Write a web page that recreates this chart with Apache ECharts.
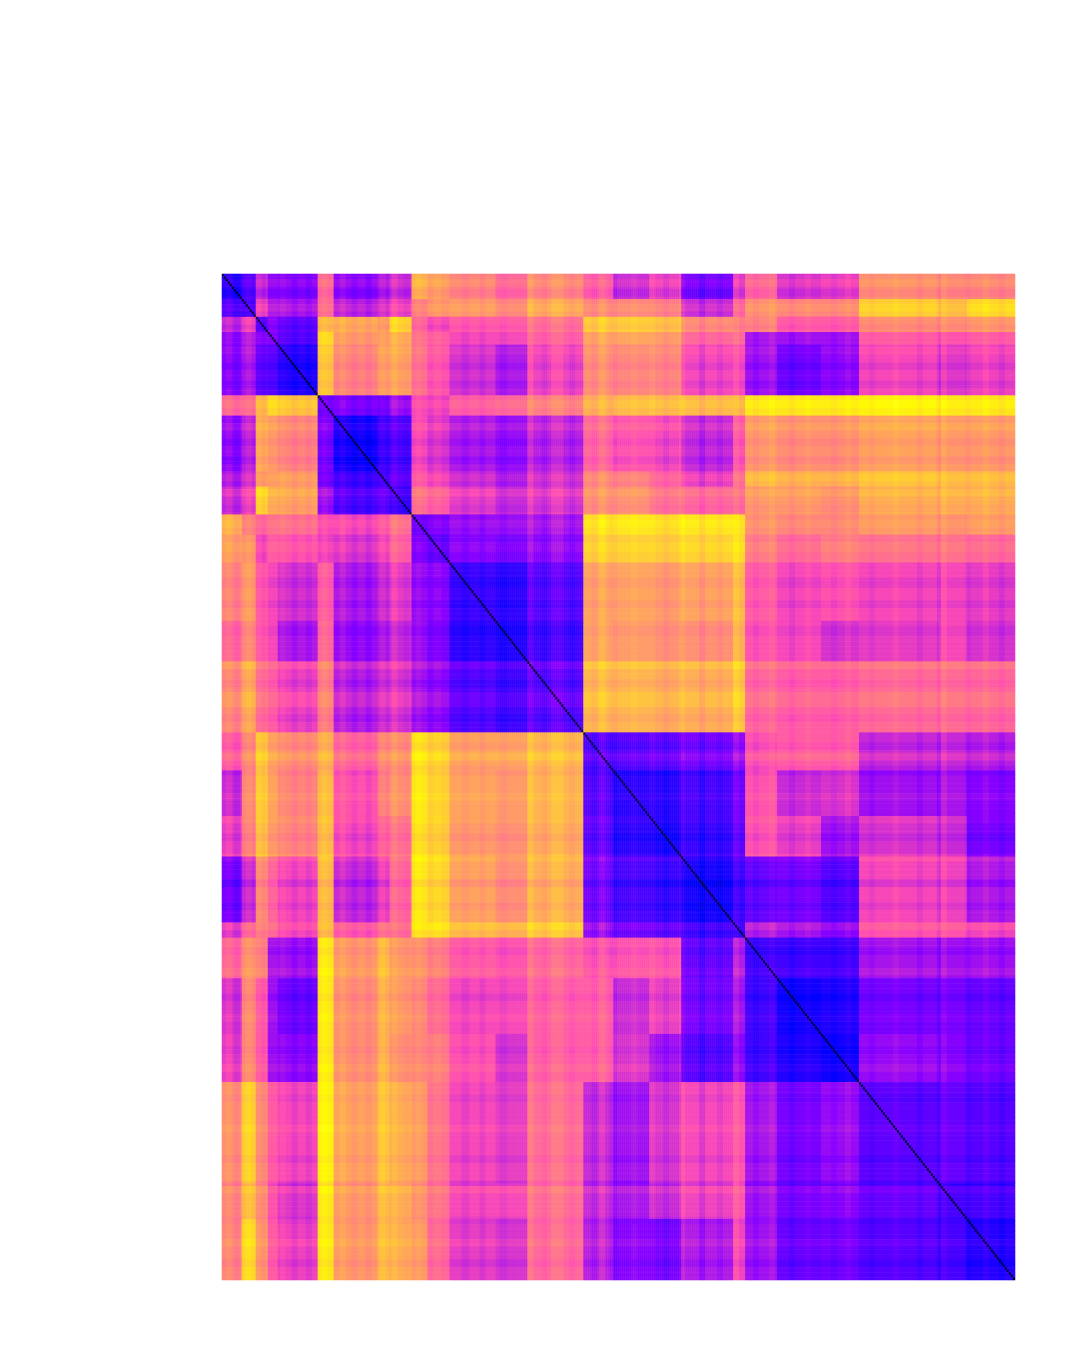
<!DOCTYPE html>
<html>
<head>
<meta charset="utf-8">
<style>html,body{margin:0;padding:0;background:#fff}#c{width:1085px;height:1350px}</style>
<script src="https://cdn.jsdelivr.net/npm/echarts@6/dist/echarts.min.js"></script>
</head>
<body>
<div id="c"></div>
<script>
const clusterSizes = [10,7,6,5,20,8,22,6,11,8,11,23,16,28,15,18,16,26,6,16,22,19,40,14,24];
// Upper triangle of cluster-to-cluster values, one row per cluster, starting at its diagonal
const rowA = [.30,.35,.50,.43,.42,.62,.43,.46,.50,.76,.72,.68,.62,.68,.60,.50,.54,.40,.52,.62,.52,.54,.70,.68,.68];
const rowB = [.33,.55,.47,.46,.62,.48,.50,.54,.66,.70,.72,.68,.74,.68,.68,.66,.50,.60,.70,.68,.68,.82,.78,.84];
const rowC = [.38,.43,.38,.78,.76,.72,.84,.62,.56,.60,.60,.64,.82,.82,.80,.70,.66,.68,.60,.60,.70,.70,.72];
const rowD = [.42,.36,.84,.72,.72,.76,.64,.60,.56,.56,.60,.74,.74,.72,.62,.62,.46,.45,.45,.60,.58,.60];
const rowE = [.30,.80,.68,.72,.74,.64,.58,.52,.47,.55,.70,.68,.68,.56,.56,.45,.39,.43,.56,.53,.55];
const rowF = [.38,.40,.38,.44,.56,.54,.60,.62,.66,.76,.78,.78,.78,.76,.87,.87,.87,.89,.87,.87];
const rowG = [.28,.32,.35,.56,.52,.47,.44,.48,.62,.58,.56,.50,.58,.72,.70,.70,.74,.72,.72];
const rowH = [.32,.36,.58,.54,.50,.46,.50,.68,.66,.60,.54,.62,.78,.76,.76,.80,.78,.78];
const rowI = [.33,.64,.60,.54,.50,.52,.70,.70,.64,.62,.62,.72,.72,.70,.76,.76,.76];
const rowJ = [.38,.40,.44,.44,.45,.86,.87,.85,.87,.85,.70,.68,.68,.72,.70,.72];
const rowK = [.36,.42,.40,.42,.82,.82,.81,.83,.84,.66,.62,.66,.64,.64,.62];
const rowL = [.33,.31,.36,.74,.74,.72,.74,.78,.60,.56,.58,.56,.56,.54];
const rowM = [.29,.33,.74,.72,.70,.70,.76,.58,.56,.52,.54,.56,.52];
const rowN = [.36,.78,.77,.75,.76,.80,.62,.60,.60,.63,.63,.62];
const rowO = [.36,.36,.37,.40,.43,.58,.60,.60,.50,.50,.48];
const rowP = [.30,.30,.34,.38,.58,.50,.52,.45,.46,.42];
const rowQ = [.28,.32,.36,.58,.54,.45,.52,.50,.40];
const rowR = [.28,.32,.38,.40,.36,.56,.55,.47];
const rowS = [.30,.47,.45,.42,.58,.58,.55];
const rowT = [.33,.33,.33,.46,.45,.45];
const rowU = [.27,.29,.40,.40,.38];
const rowV = [.27,.44,.42,.39];
const rowW = [.37,.38,.36];
const rowX = [.34,.34];
const rowY = [.30];
const diagonalValue = 0.05;
// Lighter or darker bands that cross the blocks: first item, last item, value shift
const stripeFirst = [2,6,12,20,29,35,42,50,59,65,72,79,85,91,97,106,120,129,139,153,160,165,174,185,189,194,205,214,221,229,239,248,256,266,274,284,292,305,312,324,336,348,358,360,372,381,389];
const stripeLast  = [4,8,14,21,31,37,44,52,61,67,74,81,87,93,99,109,123,131,142,155,162,170,176,187,191,197,207,216,223,231,241,250,258,268,276,286,294,307,314,326,338,350,359,362,374,383,391];
const stripeShift = [.02,-.02,.02,-.02,.015,-.02,-.02,.02,.025,-.02,-.025,.02,.025,-.015,.015,.02,-.02,-.02,-.015,.035,-.02,.03,-.02,-.02,.03,-.02,.015,.02,-.02,.025,-.035,-.02,.03,-.02,.02,-.02,.015,-.015,.02,-.015,.015,-.02,-.03,.025,-.015,.02,-.02];

const upper = [rowA,rowB,rowC,rowD,rowE,rowF,rowG,rowH,rowI,rowJ,rowK,rowL,rowM,rowN,rowO,rowP,rowQ,rowR,rowS,rowT,rowU,rowV,rowW,rowX,rowY];
const clusterOf = [];
clusterSizes.forEach((n,c)=>{for(let k=0;k<n;k++)clusterOf.push(c);});
const items = clusterOf.map((_,i)=>String(i));
const band = items.map(()=>0);
stripeFirst.forEach((f,k)=>{for(let i=f;i<=stripeLast[k];i++)band[i]=stripeShift[k];});
const data = [];
for(let i=0;i<items.length;i++){
  for(let j=0;j<items.length;j++){
    const a=Math.min(clusterOf[i],clusterOf[j]), b=Math.max(clusterOf[i],clusterOf[j]);
    data.push([j,i,i===j?diagonalValue:upper[a][b-a]+band[i]+band[j]]);
  }
}
// gnuplot2 colour map
function cm(t){
  const cl=v=>Math.round(255*Math.max(0,Math.min(1,v)));
  const r=t/0.32-0.78125, g=2*t-0.84;
  const b=t<0.25?4*t:t<0.42?1:t<0.92?-2*t+1.84:t/0.08-11.5;
  return `rgb(${cl(r)},${cl(g)},${cl(b)})`;
}
const colors=[];for(let i=0;i<=100;i++)colors.push(cm(i/100));

const chart=echarts.init(document.getElementById('c'),null,{renderer:'canvas'});
chart.setOption({
  animation:false,
  backgroundColor:'#fff',
  grid:{left:222,top:274,width:793,height:1006},
  xAxis:{type:'category',data:items,show:false},
  yAxis:{type:'category',data:items,inverse:true,show:false},
  visualMap:{show:false,min:0,max:1,calculable:false,inRange:{color:colors}},
  series:[{type:'heatmap',data:data,progressive:0,emphasis:{disabled:true},itemStyle:{borderWidth:0}}]
});
</script>
</body>
</html>
